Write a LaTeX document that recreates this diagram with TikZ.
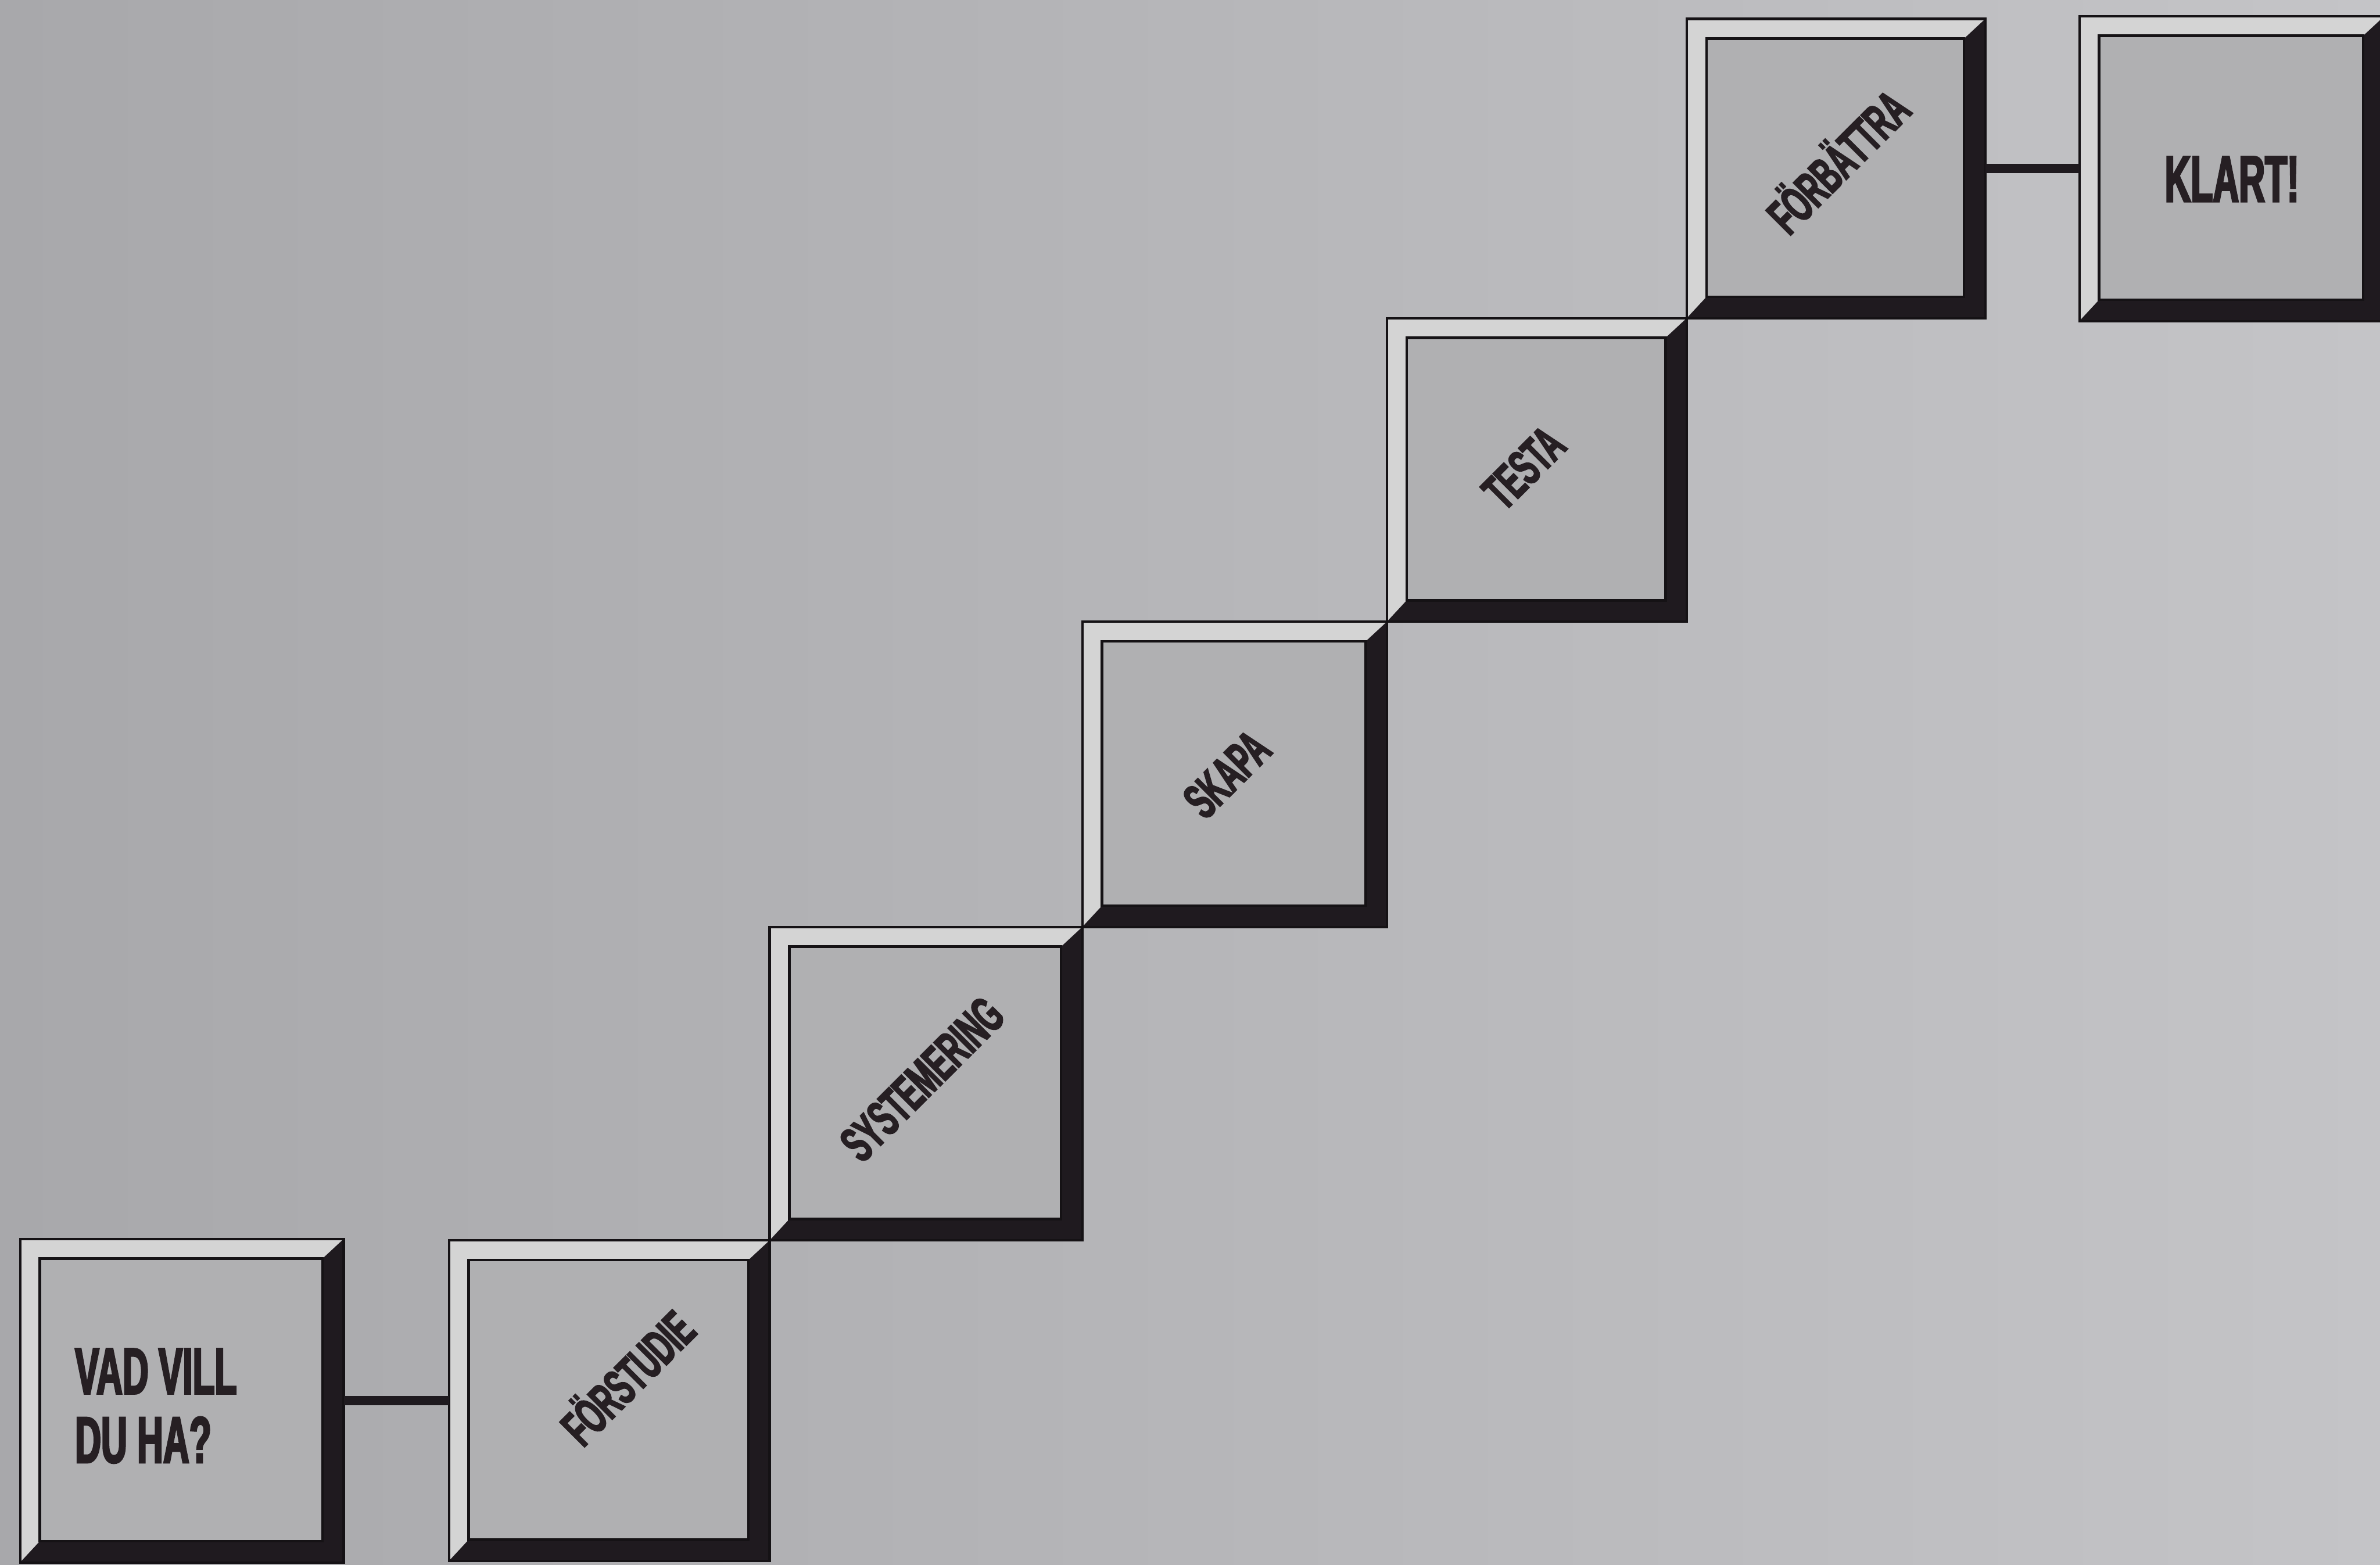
\documentclass[tikz,border=0pt]{standalone}
\usepackage{fontspec}
\newfontfamily\stepfont[FakeStretch=0.55,BoldFeatures={FakeBold=2.6}]{Liberation Sans}
\usepackage{tikz}
\usetikzlibrary{positioning}
\definecolor{StepPaperL}{HTML}{A8A8AB}
\definecolor{StepPaperR}{HTML}{C4C4C7}
\definecolor{StepFace}{HTML}{B0B0B2}
\definecolor{StepLight}{HTML}{D4D4D4}
\definecolor{StepDark}{HTML}{1F1A1F}
\definecolor{StepEdge}{HTML}{151215}
\definecolor{StepInk}{HTML}{261F23}
\tikzset{
  steplabel/.style={font=\stepfont\bfseries\fontsize{9.6}{11}\selectfont, text=StepInk, inner sep=0pt},
  stepbig/.style={steplabel, font=\stepfont\bfseries\fontsize{12.3}{12.9}\selectfont},
  stepbox/.style={minimum size=20.6mm, inner sep=0pt, outer sep=0pt,
    fill=StepLight, draw=StepEdge, line width=0.45pt,
    path picture={
      \fill[StepDark] (path picture bounding box.north east)
        -- (path picture bounding box.south east)
        -- (path picture bounding box.south west)
        -- ([shift={(1.3mm,1.4mm)}]path picture bounding box.south west)
        -- ([shift={(-1.4mm,1.4mm)}]path picture bounding box.south east)
        -- ([shift={(-1.4mm,-1.3mm)}]path picture bounding box.north east) -- cycle;
      \draw[StepEdge, line width=0.5pt, fill=StepFace]
        ([shift={(1.3mm,1.4mm)}]path picture bounding box.south west)
        rectangle ([shift={(-1.4mm,-1.3mm)}]path picture bounding box.north east);
    }},
  stepline/.style={line width=0.62mm, draw=StepDark}
}

\begin{document}
\begin{tikzpicture}[x=0.1mm, y=0.1mm]
\useasboundingbox (0,0) rectangle (1568,1031);
\clip (0,0) rectangle (1568,1031);
\shade[left color=StepPaperL, right color=StepPaperR] (0,0) rectangle (1568,1031);
% the staircase
\node[stepbox, minimum size=21.13mm] (forstudie) at (401.4,108) {};
\node[stepbox, minimum size=21.32mm, left=6.93mm of forstudie] (vad) {};
\node[stepbox, minimum width=20.6mm, minimum height=20.65mm, anchor=south west] (systemering) at (forstudie.north east) {};
\node[stepbox, minimum width=20.07mm, minimum height=20.12mm, anchor=south west] (skapa) at (systemering.north east) {};
\node[stepbox, minimum width=19.75mm, minimum height=20.0mm, anchor=south west] (testa) at (skapa.north east) {};
\node[stepbox, minimum width=19.67mm, minimum height=19.72mm, anchor=south west] (forbattra) at (testa.north east) {};
\node[stepbox, minimum size=20.1mm, right=6.2mm of forbattra] (klart) {};
\draw[stepline] (vad.east) -- (forstudie.west);
\draw[stepline] (forbattra.east) -- (klart.west);
% labels
\node[stepbig, anchor=west, align=left] (vadtext) at ([shift={(35.5,-3.5)}]vad.west) {VAD VILL\\DU HA?};
\node[steplabel, rotate=45] (forstudietext) at ([shift={(10.7,16.6)}]forstudie.center) {FÖRSTUDIE};
\node[steplabel, rotate=45] (systemeringtext) at ([shift={(-2.5,3)}]systemering.center) {SYSTEMERING};
\node[steplabel, rotate=45] (skapatext) at ([shift={(-5,0)}]skapa.center) {SKAPA};
\node[steplabel, rotate=45] (testatext) at ([shift={(-8.5,1.4)}]testa.center) {TESTA};
\node[steplabel, rotate=45] (forbattratext) at ([shift={(0,6)}]forbattra.center) {FÖRBÄTTRA};
\node[stepbig] (klarttext) at ([shift={(0,-7)}]klart.center) {KLART!};
\end{tikzpicture}
\end{document}
